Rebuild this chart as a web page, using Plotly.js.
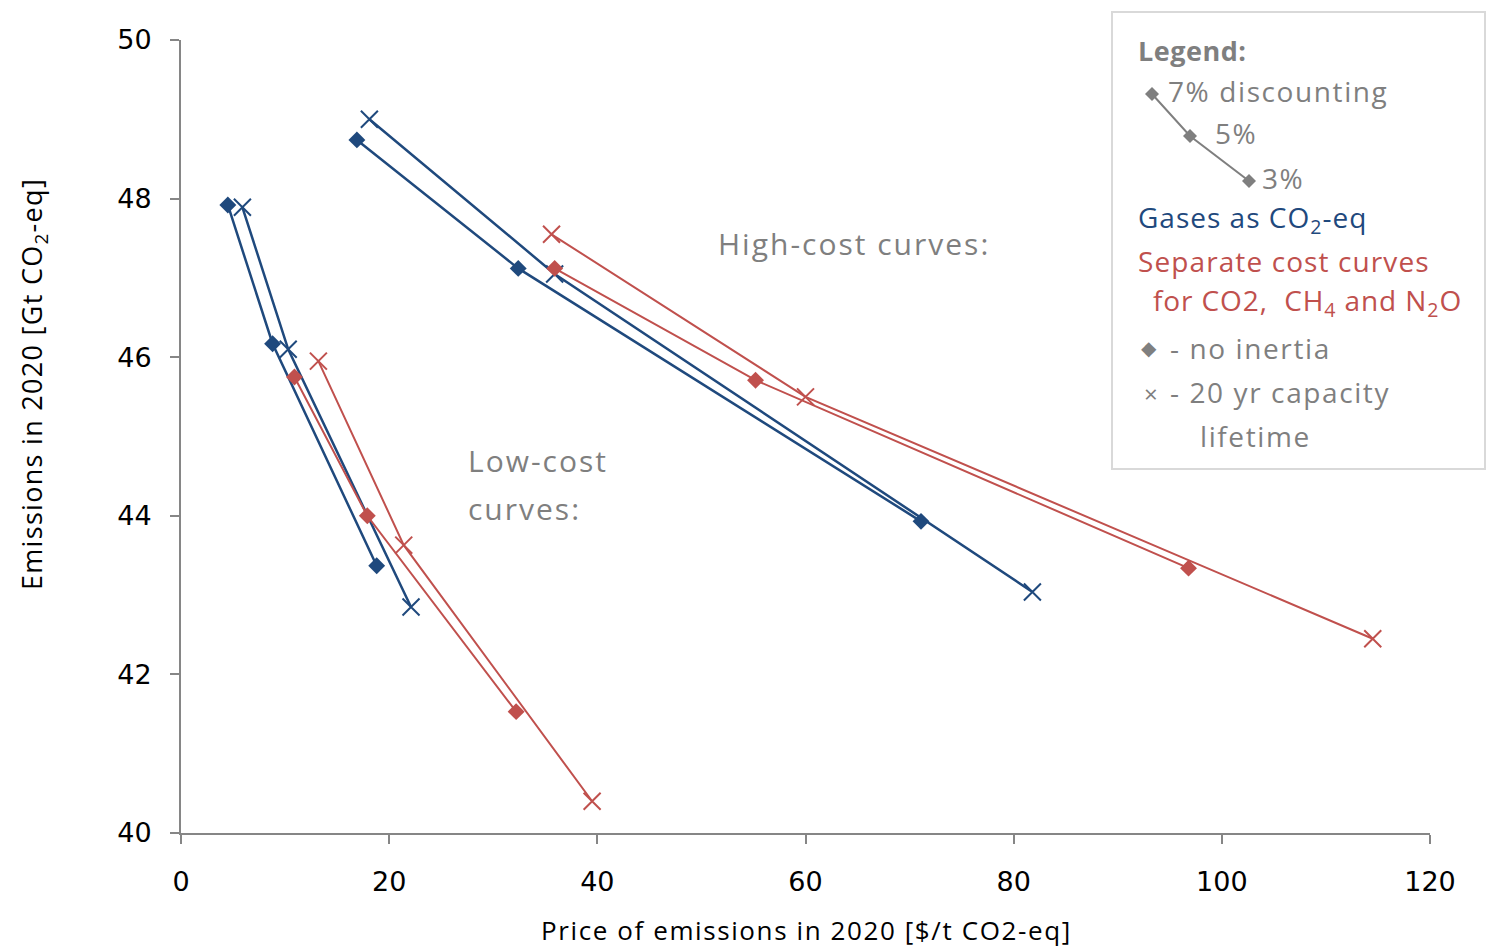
<!DOCTYPE html>
<html>
<head>
<meta charset="utf-8">
<script src="https://cdn.plot.ly/plotly-3.0.1.min.js"></script>
<style>html,body{margin:0;padding:0;background:#fff;}#chart{width:1486px;height:950px;}</style>
</head>
<body>
<div id="chart"></div>
<script>
// ---- Data ----
const lowBlueDiamondX = [4.5, 8.8, 18.8];
const lowBlueDiamondY = [47.92, 46.17, 43.37];
const lowBlueCrossX = [5.9, 10.3, 22.1];
const lowBlueCrossY = [47.89, 46.10, 42.85];
const lowRedDiamondX = [10.9, 17.9, 32.2];
const lowRedDiamondY = [45.75, 44.0, 41.53];
const lowRedCrossX = [13.2, 21.4, 39.5];
const lowRedCrossY = [45.95, 43.63, 40.40];
const highBlueDiamondX = [16.9, 32.4, 71.1];
const highBlueDiamondY = [48.74, 47.12, 43.93];
const highBlueCrossX = [18.1, 35.9, 81.8];
const highBlueCrossY = [49.0, 47.05, 43.04];
const highRedDiamondX = [35.9, 55.2, 96.8];
const highRedDiamondY = [47.12, 45.71, 43.34];
const highRedCrossX = [35.6, 60.0, 114.5];
const highRedCrossY = [47.55, 45.50, 42.45];

const xTickVals = [0, 20, 40, 60, 80, 100, 120];
const yTickVals = [40, 42, 44, 46, 48, 50];

// ---- Styles ----
const BLUE = '#1F497D', RED = '#C0504D', GRAY = '#7F7F7F';
const FONT = 'Open Sans';

function tr(x, y, color, kind, w) {
  const diamond = kind === 'diamond';
  return {
    x: x, y: y, type: 'scatter', mode: 'lines+markers', hoverinfo: 'x+y',
    line: {color: color, width: w},
    marker: diamond ? {symbol: 'diamond', size: 13, color: color}
                    : {symbol: 'x-thin', size: 17, line: {color: color, width: 2}},
    showlegend: false
  };
}

const data = [
  tr(lowBlueDiamondX, lowBlueDiamondY, BLUE, 'diamond', 2.5),
  tr(lowBlueCrossX, lowBlueCrossY, BLUE, 'cross', 2.5),
  tr(lowRedDiamondX, lowRedDiamondY, RED, 'diamond', 2),
  tr(lowRedCrossX, lowRedCrossY, RED, 'cross', 2),
  tr(highBlueDiamondX, highBlueDiamondY, BLUE, 'diamond', 2.5),
  tr(highBlueCrossX, highBlueCrossY, BLUE, 'cross', 2.5),
  tr(highRedDiamondX, highRedDiamondY, RED, 'diamond', 2),
  tr(highRedCrossX, highRedCrossY, RED, 'cross', 2)
];

// pixel -> paper helpers for decorations
const L = 181, R = 1430, T = 40, B = 833;
const px = v => (v - L) / (R - L);
const py = v => (B - v) / (B - T);

const sp = (t, ls) => '<span style="letter-spacing:' + ls + 'px">' + t + '</span>';

function txt(text, x, y, color, size, extra) {
  return Object.assign({
    text: text, xref: 'paper', yref: 'paper', x: px(x), y: py(y),
    xanchor: 'left', yanchor: 'middle', showarrow: false,
    font: {family: FONT, size: size, color: color}
  }, extra || {});
}

function diamondPath(cx, cy, r) {
  return 'M' + px(cx) + ',' + py(cy - r) + ' L' + px(cx + r) + ',' + py(cy) +
         ' L' + px(cx) + ',' + py(cy + r) + ' L' + px(cx - r) + ',' + py(cy) + ' Z';
}

const LS = 1.6;
const annotations = [
  txt(sp('High-cost curves:', 2), 716, 243, GRAY, 30),
  txt(sp('Low-cost', 2), 466, 460, GRAY, 30),
  txt(sp('curves:', 2), 466, 508, GRAY, 30),
  txt(sp('<b>Legend:</b>', 0.5), 1136, 50, GRAY, 27),
  txt(sp('7% discounting', LS), 1166, 91, GRAY, 28),
  txt(sp('5%', LS), 1213, 133, GRAY, 28),
  txt(sp('3%', LS), 1260, 178, GRAY, 28),
  txt(sp('Gases as CO<sub>2</sub>-eq', 1.0), 1136, 219, BLUE, 28),
  txt(sp('Separate cost curves', 1.1), 1136, 261, RED, 28),
  txt(sp('for CO2,  CH<sub>4</sub> and N<sub>2</sub>O', 0.9), 1151, 302, RED, 28),
  txt('◆', 1139, 348, GRAY, 20),
  txt(sp('- no inertia', LS), 1168, 348, GRAY, 28),
  txt('×', 1142, 393, GRAY, 24),
  txt(sp('- 20 yr capacity', LS), 1168, 392, GRAY, 28),
  txt(sp('lifetime', LS), 1198, 436, GRAY, 28),
  txt(sp('Emissions in 2020 [Gt CO<sub>2</sub>-eq]', 1.3), 33, 384, '#000', 27,
      {xanchor: 'center', textangle: -90}),
  txt(sp('Price of emissions in 2020 [$/t CO2-eq]', 1.6), 806, 930, '#000', 26,
      {xanchor: 'center'})
];

const shapes = [
  {type: 'rect', xref: 'paper', yref: 'paper', x0: px(1112), x1: px(1485), y0: py(12), y1: py(469),
   line: {color: '#D9D9D9', width: 2}, fillcolor: 'rgba(0,0,0,0)'},
  {type: 'path', xref: 'paper', yref: 'paper',
   path: 'M' + px(1152) + ',' + py(94) + ' L' + px(1190) + ',' + py(136) + ' L' + px(1249) + ',' + py(181),
   line: {color: GRAY, width: 2}},
  {type: 'path', xref: 'paper', yref: 'paper', path: diamondPath(1152, 94, 7), fillcolor: GRAY, line: {width: 0}},
  {type: 'path', xref: 'paper', yref: 'paper', path: diamondPath(1190, 136, 7), fillcolor: GRAY, line: {width: 0}},
  {type: 'path', xref: 'paper', yref: 'paper', path: diamondPath(1249, 181, 7), fillcolor: GRAY, line: {width: 0}}
];

const axisCommon = {
  showgrid: false, zeroline: false, showline: true, linecolor: '#868686', linewidth: 2,
  ticks: 'outside', ticklen: 9, tickwidth: 2, tickcolor: '#868686',
  tickfont: {family: 'DejaVu Sans', size: 27, color: '#000'}
};

const layout = {
  width: 1486, height: 950,
  margin: {l: L, r: 1486 - R, t: T, b: 950 - B, pad: 0},
  paper_bgcolor: '#fff', plot_bgcolor: '#fff',
  font: {family: FONT, color: '#000'},
  xaxis: Object.assign({
    range: [0, 120], tickvals: xTickVals, ticktext: xTickVals.map(String),
    ticklabelstandoff: 15
  }, axisCommon),
  yaxis: Object.assign({
    range: [40, 50], tickvals: yTickVals, ticktext: yTickVals.map(String),
    ticklabelstandoff: 13
  }, axisCommon),
  annotations: annotations,
  shapes: shapes,
  showlegend: false
};

Plotly.newPlot('chart', data, layout, {staticPlot: true});
</script>
</body>
</html>
